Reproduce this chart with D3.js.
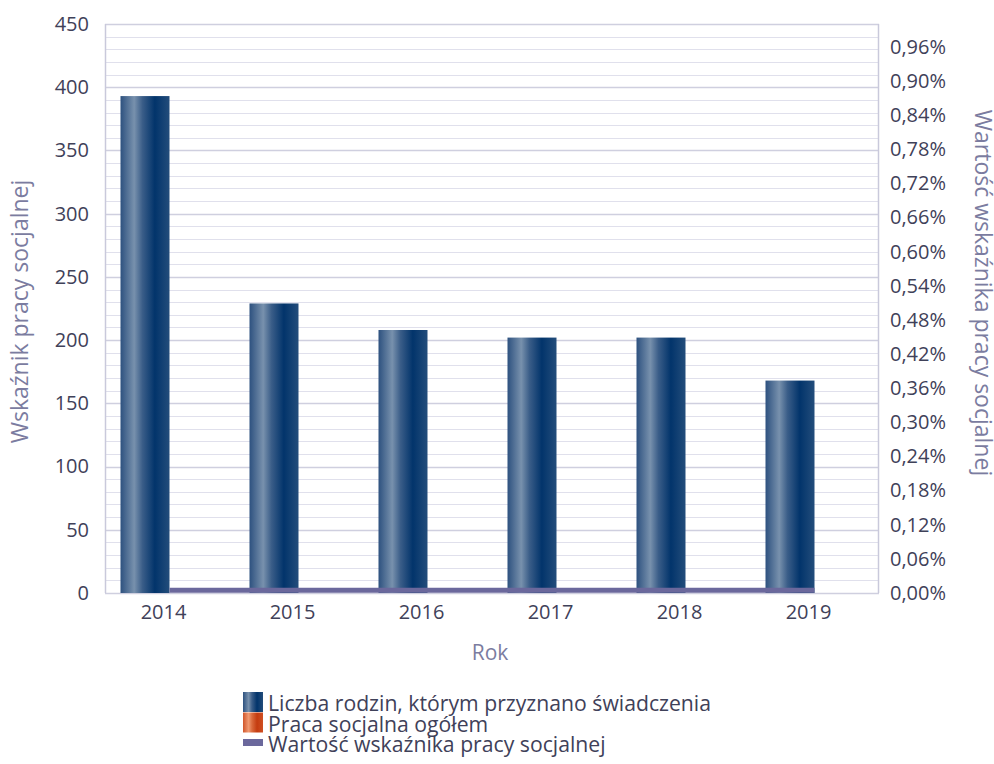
<!DOCTYPE html>
<html>
<head>
<meta charset="utf-8">
<script src="https://cdn.jsdelivr.net/npm/d3@7"></script>
<style>
  body { margin: 0; background: #fff; }
  svg text { font-family: "Open Sans", sans-serif; }
</style>
</head>
<body>
<svg id="chart" width="994" height="764"></svg>
<script>
const years = ["2014", "2015", "2016", "2017", "2018", "2019"];
const families = [393, 229, 208, 202, 202, 168];
const socialWork = [0, 0, 0, 0, 0, 0];
const indicator = [0.005, 0.005, 0.005, 0.005, 0.005, 0.005]; // percent
const leftTicks = d3.range(0, 451, 50);
const rightTicks = d3.range(0, 0.97, 0.06);

const seriesNames = [
    "Liczba rodzin, którym przyznano świadczenia",
    "Praca socjalna ogółem",
    "Wartość wskaźnika pracy socjalnej"
];

const svg = d3.select("#chart");
const margin = {top: 24, right: 115, bottom: 171, left: 105};
const width = 994 - margin.left - margin.right;
const height = 764 - margin.top - margin.bottom;

const textColor = "#3f4159";
const titleColor = "#7b7ca0";

// gradients
const defs = svg.append("defs");
function addGrad(id, stops){
    const g = defs.append("linearGradient").attr("id", id)
        .attr("x1", "0%").attr("x2", "100%").attr("y1", "0%").attr("y2", "0%");
    stops.forEach(s => g.append("stop").attr("offset", s[0]).attr("stop-color", s[1]));
}
addGrad("blueGrad", [["0%", "#2d517f"], ["28%", "#7891ad"], ["45%", "#3a5d88"], ["70%", "#02346b"], ["100%", "#234d7b"]]);
addGrad("orangeGrad", [["0%", "#d0552a"], ["28%", "#f09a72"], ["45%", "#da6a3c"], ["70%", "#c43c10"], ["100%", "#cf4f22"]]);

const g = svg.append("g").attr("transform", `translate(${margin.left},${margin.top})`);

const x = d3.scaleBand().domain(years).range([0, width]);
const y = d3.scaleLinear().domain([0, 450]).range([height, 0]);
const yR = d3.scaleLinear().domain([0, 1.0]).range([height, 0]);

// grid
g.append("g").selectAll("line")
    .data(d3.range(0, 451, 10))
    .join("line")
    .attr("x1", 0).attr("x2", width)
    .attr("y1", d => Math.round(y(d)) + 0.5).attr("y2", d => Math.round(y(d)) + 0.5)
    .attr("stroke", d => d % 50 === 0 ? "#cfcfdf" : "#e0e0ec")
    .attr("stroke-width", d => d % 50 === 0 ? 1.5 : 1);

// bars
const barW = 49;
g.append("g").selectAll("rect")
    .data(families)
    .join("rect")
    .attr("x", (d, i) => x(years[i]) + x.bandwidth() / 2 - barW)
    .attr("y", d => y(d))
    .attr("width", barW)
    .attr("height", d => height - y(d))
    .attr("fill", "url(#blueGrad)");

g.append("g").selectAll("rect")
    .data(socialWork)
    .join("rect")
    .attr("x", (d, i) => x(years[i]) + x.bandwidth() / 2)
    .attr("y", d => y(d))
    .attr("width", barW)
    .attr("height", d => height - y(d))
    .attr("fill", "url(#orangeGrad)");

// indicator line
const line = d3.line()
    .x((d, i) => x(years[i]) + x.bandwidth() / 2)
    .y(d => yR(d));
g.append("path")
    .datum(indicator)
    .attr("d", line)
    .attr("fill", "none")
    .attr("stroke", "#6b689c")
    .attr("stroke-width", 5);

// axes frame
g.append("line").attr("x1", 0.5).attr("x2", 0.5).attr("y1", 0).attr("y2", height)
    .attr("stroke", "#c9c9db").attr("stroke-width", 1.5);
g.append("line").attr("x1", width - 0.5).attr("x2", width - 0.5).attr("y1", 0).attr("y2", height)
    .attr("stroke", "#c9c9db").attr("stroke-width", 1.5);

// left axis
const axL = g.append("g")
    .call(d3.axisLeft(y).tickValues(leftTicks).tickSize(0).tickPadding(16))
    .call(a => a.select(".domain").remove());
axL.selectAll("text").attr("fill", textColor).attr("font-size", 20);

// right axis
const axR = g.append("g")
    .attr("transform", `translate(${width},0)`)
    .call(d3.axisRight(yR).tickValues(rightTicks).tickSize(0).tickPadding(11)
        .tickFormat(d => d.toFixed(2).replace(".", ",") + "%"))
    .call(a => a.select(".domain").remove());
axR.selectAll("text").attr("fill", textColor).attr("font-size", 20);

// bottom axis
const axB = g.append("g")
    .attr("transform", `translate(0,${height})`)
    .call(d3.axisBottom(x).tickSize(0).tickPadding(12))
    .call(a => a.select(".domain").remove());
axB.selectAll("text").attr("fill", textColor).attr("font-size", 20)
    .attr("dx", -6);

// titles
svg.append("text")
    .attr("transform", `translate(28,${margin.top + height / 2 + 3}) rotate(-90)`)
    .attr("text-anchor", "middle")
    .attr("font-size", 23)
    .attr("fill", titleColor)
    .text("Wskaźnik pracy socjalnej");

svg.append("text")
    .attr("transform", `translate(975,293) rotate(90)`)
    .attr("text-anchor", "middle")
    .attr("font-size", 23)
    .attr("fill", titleColor)
    .text("Wartość wskaźnika pracy socjalnej");

svg.append("text")
    .attr("x", 490).attr("y", 660)
    .attr("text-anchor", "middle")
    .attr("font-size", 21)
    .attr("fill", titleColor)
    .text("Rok");

// legend
const legend = svg.append("g").attr("transform", "translate(243,692)");
const rowH = 20.5;
seriesNames.forEach((name, i) => {
    const row = legend.append("g").attr("transform", `translate(0,${i * rowH})`);
    if (i < 2) {
        row.append("rect").attr("width", 20).attr("height", 20)
            .attr("fill", i === 0 ? "url(#blueGrad)" : "url(#orangeGrad)");
    } else {
        row.append("rect").attr("y", 6).attr("width", 20).attr("height", 7)
            .attr("fill", "#6b689c");
    }
    row.append("text")
        .attr("x", 25).attr("y", 19)
        .attr("font-size", 21.2)
        .attr("fill", textColor)
        .text(name);
});
</script>
</body>
</html>
